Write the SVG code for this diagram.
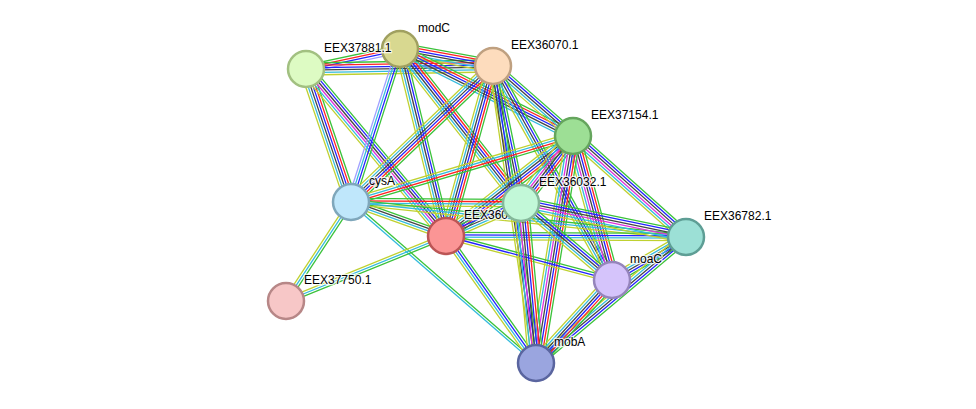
<svg xmlns="http://www.w3.org/2000/svg" width="976" height="409" viewBox="0 0 976 409">
<style>
.e path{fill:none;stroke-width:1.3}
.g{stroke:#3ac23a}.r{stroke:#f22}.b{stroke:#22f}.k{stroke:#444}.m{stroke:#d3d}.c{stroke:#3bd}.y{stroke:#bfd130}.h{stroke:#a0a0ff}
.n circle{stroke-width:2.5}
.n text{font-family:"Liberation Sans",Arial,sans-serif;font-size:12px;fill:#000;stroke:#fff;stroke-width:2.5;stroke-opacity:0.8;paint-order:stroke}
</style>
<rect width="976" height="409" fill="#fff"/>
<g id="connectors" class="e">
<g transform="translate(306 69) rotate(-12)"><path class="g" d="M0 -3.6h96.1"/><path class="r" d="M0 -1.2h96.1"/><path class="b" d="M0 1.2h96.1"/><path class="h" d="M0 3.6h96.1"/></g>
<g transform="translate(306 69) rotate(-0.92)"><path class="g" d="M0 -6h187"/><path class="r" d="M0 -3.6h187"/><path class="b" d="M0 -1.2h187"/><path class="k" d="M0 1.2h187"/><path class="c" d="M0 3.6h187"/><path class="y" d="M0 6h187"/></g>
<g transform="translate(400 49) rotate(10.36)"><path class="g" d="M0 -6h94.5"/><path class="r" d="M0 -3.6h94.5"/><path class="b" d="M0 -1.2h94.5"/><path class="k" d="M0 1.2h94.5"/><path class="c" d="M0 3.6h94.5"/><path class="y" d="M0 6h94.5"/></g>
<g transform="translate(306 69) rotate(71.3)"><path class="g" d="M0 -6h140.4"/><path class="r" d="M0 -3.6h140.4"/><path class="b" d="M0 -1.2h140.4"/><path class="k" d="M0 1.2h140.4"/><path class="c" d="M0 3.6h140.4"/><path class="y" d="M0 6h140.4"/></g>
<g transform="translate(306 69) rotate(50.03)"><path class="g" d="M0 -6h217.9"/><path class="b" d="M0 -3.6h217.9"/><path class="k" d="M0 -1.2h217.9"/><path class="m" d="M0 1.2h217.9"/><path class="c" d="M0 3.6h217.9"/><path class="y" d="M0 6h217.9"/></g>
<g transform="translate(400 49) rotate(107.76)"><path class="g" d="M0 -3.6h160.7"/><path class="b" d="M0 -1.2h160.7"/><path class="c" d="M0 1.2h160.7"/><path class="h" d="M0 3.6h160.7"/></g>
<g transform="translate(400 49) rotate(76.18)"><path class="g" d="M0 -4.8h192.6"/><path class="b" d="M0 -2.4h192.6"/><path class="k" d="M0 0h192.6"/><path class="c" d="M0 2.4h192.6"/><path class="y" d="M0 4.8h192.6"/></g>
<g transform="translate(400 49) rotate(51.84)"><path class="g" d="M0 -6h195.8"/><path class="r" d="M0 -3.6h195.8"/><path class="b" d="M0 -1.2h195.8"/><path class="k" d="M0 1.2h195.8"/><path class="c" d="M0 3.6h195.8"/><path class="y" d="M0 6h195.8"/></g>
<g transform="translate(400 49) rotate(26.7)"><path class="g" d="M0 -4.8h193.6"/><path class="r" d="M0 -2.4h193.6"/><path class="b" d="M0 0h193.6"/><path class="k" d="M0 2.4h193.6"/><path class="c" d="M0 4.8h193.6"/></g>
<g transform="translate(493 66) rotate(41.19)"><path class="g" d="M0 -4.8h106.3"/><path class="b" d="M0 -2.4h106.3"/><path class="k" d="M0 0h106.3"/><path class="c" d="M0 2.4h106.3"/><path class="y" d="M0 4.8h106.3"/></g>
<g transform="translate(493 66) rotate(136.24)"><path class="g" d="M0 -6h196.6"/><path class="r" d="M0 -3.6h196.6"/><path class="b" d="M0 -1.2h196.6"/><path class="k" d="M0 1.2h196.6"/><path class="c" d="M0 3.6h196.6"/><path class="y" d="M0 6h196.6"/></g>
<g transform="translate(493 66) rotate(105.45)"><path class="g" d="M0 -6h176.4"/><path class="r" d="M0 -3.6h176.4"/><path class="b" d="M0 -1.2h176.4"/><path class="k" d="M0 1.2h176.4"/><path class="c" d="M0 3.6h176.4"/><path class="y" d="M0 6h176.4"/></g>
<g transform="translate(493 66) rotate(78.45)"><path class="g" d="M0 -4.8h139.8"/><path class="b" d="M0 -2.4h139.8"/><path class="k" d="M0 0h139.8"/><path class="c" d="M0 2.4h139.8"/><path class="y" d="M0 4.8h139.8"/></g>
<g transform="translate(493 66) rotate(60.92)"><path class="g" d="M0 -4.8h244.9"/><path class="b" d="M0 -2.4h244.9"/><path class="k" d="M0 0h244.9"/><path class="c" d="M0 2.4h244.9"/><path class="y" d="M0 4.8h244.9"/></g>
<g transform="translate(493 66) rotate(81.76)"><path class="g" d="M0 -3.6h300.1"/><path class="b" d="M0 -1.2h300.1"/><path class="k" d="M0 1.2h300.1"/><path class="y" d="M0 3.6h300.1"/></g>
<g transform="translate(573 136) rotate(163.44)"><path class="g" d="M0 -3.6h231.6"/><path class="r" d="M0 -1.2h231.6"/><path class="c" d="M0 1.2h231.6"/><path class="y" d="M0 3.6h231.6"/></g>
<g transform="translate(573 136) rotate(141.78)"><path class="g" d="M0 -6h161.6"/><path class="r" d="M0 -3.6h161.6"/><path class="b" d="M0 -1.2h161.6"/><path class="k" d="M0 1.2h161.6"/><path class="c" d="M0 3.6h161.6"/><path class="y" d="M0 6h161.6"/></g>
<g transform="translate(573 136) rotate(127.82)"><path class="g" d="M0 -7.2h84.8"/><path class="r" d="M0 -4.8h84.8"/><path class="b" d="M0 -2.4h84.8"/><path class="k" d="M0 0h84.8"/><path class="m" d="M0 2.4h84.8"/><path class="c" d="M0 4.8h84.8"/><path class="y" d="M0 7.2h84.8"/></g>
<g transform="translate(573 136) rotate(41.79)"><path class="g" d="M0 -6h151.6"/><path class="b" d="M0 -3.6h151.6"/><path class="k" d="M0 -1.2h151.6"/><path class="m" d="M0 1.2h151.6"/><path class="c" d="M0 3.6h151.6"/><path class="y" d="M0 6h151.6"/></g>
<g transform="translate(573 136) rotate(74.85)"><path class="g" d="M0 -7.2h149.2"/><path class="r" d="M0 -4.8h149.2"/><path class="b" d="M0 -2.4h149.2"/><path class="k" d="M0 0h149.2"/><path class="m" d="M0 2.4h149.2"/><path class="c" d="M0 4.8h149.2"/><path class="y" d="M0 7.2h149.2"/></g>
<g transform="translate(573 136) rotate(99.26)"><path class="g" d="M0 -7.2h230"/><path class="r" d="M0 -4.8h230"/><path class="b" d="M0 -2.4h230"/><path class="k" d="M0 0h230"/><path class="m" d="M0 2.4h230"/><path class="c" d="M0 4.8h230"/><path class="y" d="M0 7.2h230"/></g>
<g transform="translate(351 202) rotate(0.34)"><path class="g" d="M0 -3.6h170"/><path class="r" d="M0 -1.2h170"/><path class="c" d="M0 1.2h170"/><path class="y" d="M0 3.6h170"/></g>
<g transform="translate(351 202) rotate(19.69)"><path class="g" d="M0 -3.6h100.9"/><path class="k" d="M0 -1.2h100.9"/><path class="c" d="M0 1.2h100.9"/><path class="y" d="M0 3.6h100.9"/></g>
<g transform="translate(351 202) rotate(123.29)"><path class="g" d="M0 -2.4h118.4"/><path class="c" d="M0 0h118.4"/><path class="y" d="M0 2.4h118.4"/></g>
<g transform="translate(351 202) rotate(41.03)"><path class="g" d="M0 -1.2h245.2"/><path class="c" d="M0 1.2h245.2"/></g>
<g transform="translate(351 202) rotate(5.97)"><path class="g" d="M0 -2.4h336.8"/><path class="c" d="M0 0h336.8"/><path class="y" d="M0 2.4h336.8"/></g>
<g transform="translate(446 236) rotate(-23.75)"><path class="g" d="M0 -4.8h81.9"/><path class="b" d="M0 -2.4h81.9"/><path class="k" d="M0 0h81.9"/><path class="c" d="M0 2.4h81.9"/><path class="y" d="M0 4.8h81.9"/></g>
<g transform="translate(446 236) rotate(0.24)"><path class="g" d="M0 -3.6h240"/><path class="b" d="M0 -1.2h240"/><path class="c" d="M0 1.2h240"/><path class="y" d="M0 3.6h240"/></g>
<g transform="translate(446 236) rotate(14.85)"><path class="g" d="M0 -2.4h171.7"/><path class="b" d="M0 0h171.7"/><path class="y" d="M0 2.4h171.7"/></g>
<g transform="translate(446 236) rotate(54.67)"><path class="g" d="M0 -3.6h155.7"/><path class="b" d="M0 -1.2h155.7"/><path class="c" d="M0 1.2h155.7"/><path class="y" d="M0 3.6h155.7"/></g>
<g transform="translate(446 236) rotate(157.89)"><path class="g" d="M0 -2.4h172.7"/><path class="c" d="M0 0h172.7"/><path class="y" d="M0 2.4h172.7"/></g>
<g transform="translate(521 203) rotate(11.64)"><path class="g" d="M0 -6h168.5"/><path class="b" d="M0 -3.6h168.5"/><path class="k" d="M0 -1.2h168.5"/><path class="m" d="M0 1.2h168.5"/><path class="c" d="M0 3.6h168.5"/><path class="y" d="M0 6h168.5"/></g>
<g transform="translate(521 203) rotate(40.24)"><path class="g" d="M0 -4.8h119.2"/><path class="b" d="M0 -2.4h119.2"/><path class="k" d="M0 0h119.2"/><path class="c" d="M0 2.4h119.2"/><path class="y" d="M0 4.8h119.2"/></g>
<g transform="translate(521 203) rotate(84.64)"><path class="g" d="M0 -7.2h160.7"/><path class="r" d="M0 -4.8h160.7"/><path class="b" d="M0 -2.4h160.7"/><path class="k" d="M0 0h160.7"/><path class="m" d="M0 2.4h160.7"/><path class="c" d="M0 4.8h160.7"/><path class="y" d="M0 7.2h160.7"/></g>
<g transform="translate(686 237) rotate(149.84)"><path class="g" d="M0 -4.8h85.6"/><path class="b" d="M0 -2.4h85.6"/><path class="k" d="M0 0h85.6"/><path class="c" d="M0 2.4h85.6"/><path class="y" d="M0 4.8h85.6"/></g>
<g transform="translate(686 237) rotate(139.97)"><path class="g" d="M0 -4.8h195.9"/><path class="b" d="M0 -2.4h195.9"/><path class="k" d="M0 0h195.9"/><path class="c" d="M0 2.4h195.9"/><path class="y" d="M0 4.8h195.9"/></g>
<g transform="translate(612 280) rotate(132.48)"><path class="g" d="M0 -6h112.5"/><path class="r" d="M0 -3.6h112.5"/><path class="b" d="M0 -1.2h112.5"/><path class="k" d="M0 1.2h112.5"/><path class="c" d="M0 3.6h112.5"/><path class="y" d="M0 6h112.5"/></g>
</g>
<g id="EEX37750.1" class="n"><circle cx="286" cy="301" r="18" fill="#f7c7c7" stroke="#b78787"/><text x="304" y="284">EEX37750.1</text></g>
<g id="cysA" class="n"><circle cx="351" cy="202" r="18" fill="#bfe7fb" stroke="#7fa7bb"/><text x="369" y="185">cysA</text></g>
<g id="modC" class="n"><circle cx="400" cy="49" r="18" fill="#d8d890" stroke="#a0a060"/><text x="418" y="32">modC</text></g>
<g id="EEX37881.1" class="n"><circle cx="306" cy="69" r="18" fill="#ddfbc3" stroke="#a2c081"/><text x="324" y="52">EEX37881.1</text></g>
<g id="EEX36070.1" class="n"><circle cx="493" cy="66" r="18" fill="#fddcbd" stroke="#bfa080"/><text x="511" y="49">EEX36070.1</text></g>
<g id="EEX360" class="n"><circle cx="446" cy="236" r="18" fill="#fb9595" stroke="#bb5555"/><text x="464" y="219">EEX360</text></g>
<g id="EEX36032.1" class="n"><circle cx="521" cy="203" r="18" fill="#c2f8d8" stroke="#85b89a"/><text x="539" y="186">EEX36032.1</text></g>
<g id="EEX37154.1" class="n"><circle cx="573" cy="136" r="18" fill="#9ddf95" stroke="#65a55d"/><text x="591" y="119">EEX37154.1</text></g>
<g id="EEX36782.1" class="n"><circle cx="686" cy="237" r="18" fill="#9ce0d6" stroke="#5e9e95"/><text x="704" y="220">EEX36782.1</text></g>
<g id="moaC" class="n"><circle cx="612" cy="280" r="18" fill="#d5c4fb" stroke="#9585bb"/><text x="630" y="263">moaC</text></g>
<g id="mobA" class="n"><circle cx="536" cy="363" r="18" fill="#9aa5df" stroke="#5a659f"/><text x="554" y="346">mobA</text></g>
</svg>
